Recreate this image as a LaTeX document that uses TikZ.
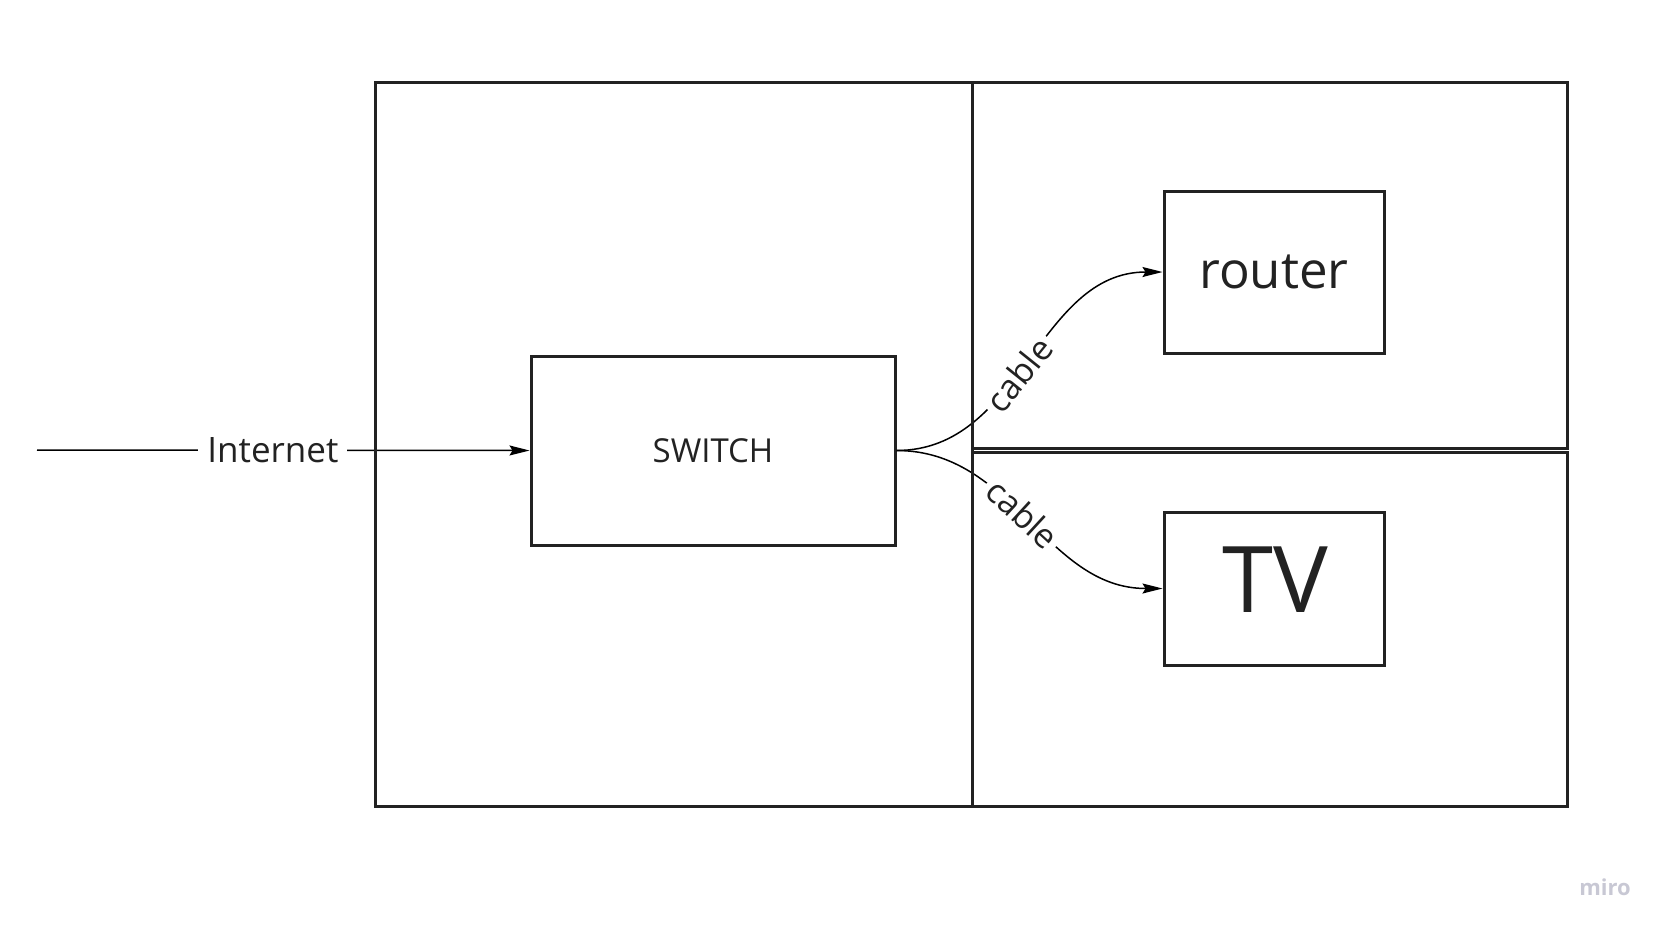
\documentclass[tikz,border=0pt]{standalone}
\usepackage{fontspec}
\setmainfont{Open Sans}
\usetikzlibrary{arrows.meta}
\definecolor{ink}{RGB}{34,34,34}
\definecolor{miroc}{RGB}{200,200,212}
\tikzset{
  panel/.style={draw=ink, line width=3pt},
  devbox/.style={draw=ink, line width=3pt, rectangle, inner sep=0pt, text=ink},
  wire/.style={draw=black, line width=1.5pt, -{Stealth[length=20pt,width=10pt,inset=3pt]}},
  wirelabel/.style={fill=white, inner sep=5pt, font=\fontsize{34}{40}\selectfont, text=ink}
}
\begin{document}
\begin{tikzpicture}[x=1pt,y=-1pt]
\useasboundingbox (0,0) rectangle (1671,935);
% device boxes
\node[devbox, minimum width=364pt, minimum height=189pt, font=\fontsize{33}{38}\selectfont] (switch) at (713,450.5) {SWITCH};
\node[devbox, minimum width=220pt, minimum height=162pt, font=\fontsize{51}{58}\selectfont] (router) at (1274,272) {router};
\node[devbox, minimum width=220pt, minimum height=153pt] (tv) at (1274,588.5) {};
\node[text=ink, inner sep=0pt, font=\fontsize{92}{100}\selectfont] (tvtext) at (1275,580) {TV};
% internet
\coordinate (inet) at (37,450);
\draw[wire] (inet) -- node[wirelabel, inner sep=9pt, pos=0.479, font=\fontsize{35}{40}\selectfont] (inetlabel) {Internet} (switch.west);
% cables
\draw[wire] (switch.east) to[out=0,in=180] node[wirelabel, sloped, pos=0.45] (cable1) {cable} (router.west);
\draw[wire] (switch.east) to[out=0,in=180] node[wirelabel, sloped, pos=0.47] (cable2) {cable} (tv.west);
% rooms
\draw[panel] (375,82) rectangle (972,806);
\draw[panel] (972,82) rectangle (1567,448);
\draw[panel] (972,452) rectangle (1567,806);
% watermark
\node[text=miroc, font=\fontsize{22}{26}\selectfont\bfseries, inner sep=0pt] (miro) at (1605,887) {miro};
\end{tikzpicture}
\end{document}
